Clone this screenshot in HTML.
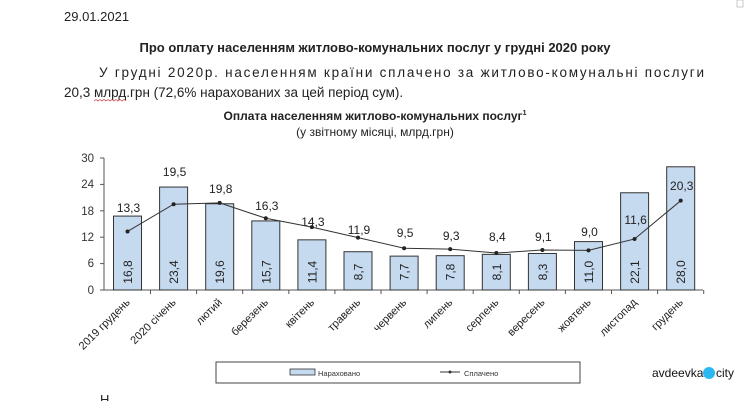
<!DOCTYPE html>
<html><head><meta charset="utf-8"><style>
body{margin:0;background:#fff;width:750px;height:401px;overflow:hidden}
</style></head><body>
<svg width="750" height="401" xmlns="http://www.w3.org/2000/svg" font-family="Liberation Sans, DejaVu Sans, sans-serif">
<rect width="750" height="401" fill="#fff"/>
<rect x="737" y="0" width="6" height="7" fill="none" stroke="#bbb" stroke-width="0.8"/>
<text x="64" y="21" font-size="13" fill="#222">29.01.2021</text>
<text x="375" y="52" font-size="13" font-weight="bold" text-anchor="middle" fill="#222">Про оплату населенням житлово-комунальних послуг у грудні 2020 року</text>
<text x="99" y="77" font-size="13.5" fill="#222" textLength="605" lengthAdjust="spacing">У грудні 2020р. населенням країни сплачено за житлово-комунальні послуги</text>
<text x="64" y="97" font-size="13.5" fill="#222">20,3 млрд.грн (72,6% нарахованих за цей період сум).</text>
<path d="M94 101 l2 -1.5 l2 1.5 l2 -1.5 l2 1.5 l2 -1.5 l2 1.5 l2 -1.5 l2 1.5 l2 -1.5 l2 1.5 l2 -1.5 l2 1.5 l2 -1.5 l2 1.5 l2 -1.5 l2 1.5" stroke="#c33" fill="none" stroke-width="0.7"/>
<text x="375" y="120" font-size="12" font-weight="bold" text-anchor="middle" fill="#222">Оплата населенням житлово-комунальних послуг<tspan font-size="7" dy="-5">1</tspan></text>
<text x="375" y="136" font-size="12" text-anchor="middle" fill="#222">(у звітному місяці, млрд.грн)</text>
<g font-size="11.5" fill="#333" text-anchor="end">
<text x="94" y="162">30</text><text x="94" y="188">24</text><text x="94" y="215">18</text><text x="94" y="241">12</text><text x="94" y="267">6</text><text x="94" y="294">0</text>
</g>
<g stroke="#555" stroke-width="1">
<line x1="104" y1="158" x2="104" y2="290"/>
<line x1="100" y1="158" x2="104" y2="158"/><line x1="100" y1="184.4" x2="104" y2="184.4"/><line x1="100" y1="210.8" x2="104" y2="210.8"/><line x1="100" y1="237.2" x2="104" y2="237.2"/><line x1="100" y1="263.6" x2="104" y2="263.6"/>
<line x1="100" y1="290" x2="703" y2="290"/>
</g>
<g id="bars" fill="#c5d9ef" stroke="#333" stroke-width="1"></g>
<g id="ticks" stroke="#555"></g>
<g id="dyn"></g>
<rect x="216" y="362" width="364" height="21" fill="#fff" stroke="#444" stroke-width="1"/>
<rect x="290" y="369" width="25" height="6" fill="#c5d9ef" stroke="#333" stroke-width="0.8"/>
<text x="318" y="376" font-size="7.5" fill="#333">Нараховано</text>
<line x1="440" y1="372" x2="460" y2="372" stroke="#333"/><circle cx="450" cy="372" r="1.5" fill="#333"/>
<text x="464" y="376" font-size="7.5" fill="#333">Сплачено</text>
<text x="652" y="377" font-size="12" fill="#111">avdeevka</text>
<circle cx="709" cy="373" r="6" fill="#2bb8f0"/>
<text x="716" y="377" font-size="12" fill="#111">city</text>
<text x="100" y="404" font-size="13" fill="#222">Н</text>
</svg>
<script>
var acc=[16.8,23.4,19.6,15.7,11.4,8.7,7.7,7.8,8.1,8.3,11.0,22.1,28.0];
var paid=[13.3,19.5,19.8,16.3,14.3,11.9,9.5,9.3,8.4,9.1,9.0,11.6,20.3];
var ly=[208,172,189,206,222,230,233,236,237,237,232,220,186];
var cats=["2019 грудень","2020 січень","лютий","березень","квітень","травень","червень","липень","серпень","вересень","жовтень","листопад","грудень"];
var ns="http://www.w3.org/2000/svg";
function el(t,a,p,txt){var e=document.createElementNS(ns,t);for(var k in a)e.setAttribute(k,a[k]);if(txt!==undefined)e.textContent=txt;p.appendChild(e);return e;}
var bars=document.getElementById('bars'),ticks=document.getElementById('ticks'),dyn=document.getElementById('dyn');
function Y(v){return 290-v*4.4;}
var pts=[];
for(var i=0;i<13;i++){
 var cx=127.5+i*46.1;
 el('rect',{x:cx-14,y:Y(acc[i]),width:28,height:acc[i]*4.4},bars);
 el('line',{x1:cx+23,y1:290,x2:cx+23,y2:294},ticks);
 var s=acc[i].toFixed(1).replace('.',',');
 var bx=cx+4.5;
 el('text',{x:bx,y:272,transform:'rotate(-90 '+bx+' 272)','font-size':12,fill:'#222','text-anchor':'middle'},dyn,s);
 el('text',{x:cx+1,y:ly[i]+4,'font-size':12,fill:'#222','text-anchor':'middle'},dyn,paid[i].toFixed(1).replace('.',','));
 el('text',{x:cx+3,y:303,transform:'rotate(-45 '+(cx+3)+' 303)','font-size':11,fill:'#222','text-anchor':'end'},dyn,cats[i]);
 pts.push(cx+','+Y(paid[i]));
}
el('polyline',{points:pts.join(' '),fill:'none',stroke:'#333','stroke-width':1},dyn);
pts.forEach(function(p){var q=p.split(',');el('circle',{cx:q[0],cy:q[1],r:2,fill:'#222'},dyn);});
</script>
</body></html>
